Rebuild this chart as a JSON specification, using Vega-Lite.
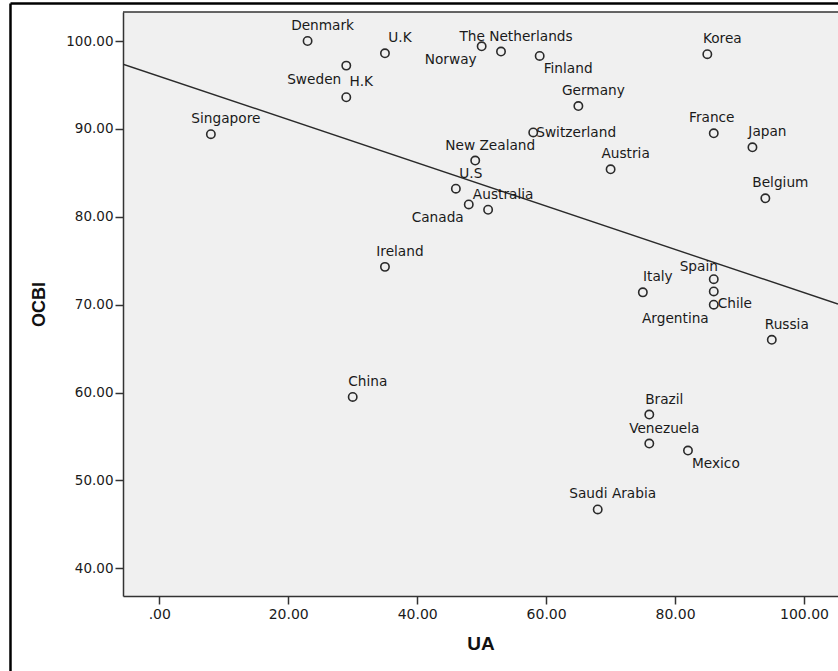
{
  "$schema": "https://vega.github.io/schema/vega-lite/v6.json",
  "width": 715,
  "height": 584,
  "autosize": {"type": "none"},
  "padding": {"left": 123, "top": 12, "right": 0, "bottom": 75},
  "background": "white",
  "config": {
    "view": {"fill": "#f0f0f0", "stroke": null},
    "axis": {
      "grid": false,
      "domainColor": "#333",
      "domainWidth": 1.5,
      "tickColor": "#333",
      "tickWidth": 1.5,
      "tickSize": 8,
      "labelColor": "#1a1a1a",
      "labelFont": "DejaVu Sans",
      "titleFont": "Liberation Sans",
      "titleFontWeight": "bold",
      "titleColor": "#111"
    }
  },
  "data": {
    "values": [
      {"country": "Denmark", "UA": 23, "OCBI": 100.0},
      {"country": "U.K", "UA": 35, "OCBI": 98.6},
      {"country": "Sweden", "UA": 29, "OCBI": 97.2},
      {"country": "H.K", "UA": 29, "OCBI": 93.6},
      {"country": "Norway", "UA": 50, "OCBI": 99.4},
      {"country": "The Netherlands", "UA": 53, "OCBI": 98.8},
      {"country": "Finland", "UA": 59, "OCBI": 98.3},
      {"country": "Germany", "UA": 65, "OCBI": 92.6},
      {"country": "Switzerland", "UA": 58, "OCBI": 89.6},
      {"country": "Korea", "UA": 85, "OCBI": 98.5},
      {"country": "France", "UA": 86, "OCBI": 89.5},
      {"country": "Japan", "UA": 92, "OCBI": 87.9},
      {"country": "Belgium", "UA": 94, "OCBI": 82.1},
      {"country": "Austria", "UA": 70, "OCBI": 85.4},
      {"country": "Singapore", "UA": 8, "OCBI": 89.4},
      {"country": "New Zealand", "UA": 49, "OCBI": 86.4},
      {"country": "U.S", "UA": 46, "OCBI": 83.2},
      {"country": "Canada", "UA": 48, "OCBI": 81.4},
      {"country": "Australia", "UA": 51, "OCBI": 80.8},
      {"country": "Ireland", "UA": 35, "OCBI": 74.3},
      {"country": "Italy", "UA": 75, "OCBI": 71.4},
      {"country": "Spain", "UA": 86, "OCBI": 72.9},
      {"country": "Chile", "UA": 86, "OCBI": 71.5},
      {"country": "Argentina", "UA": 86, "OCBI": 70.0},
      {"country": "Russia", "UA": 95, "OCBI": 66.0},
      {"country": "China", "UA": 30, "OCBI": 59.5},
      {"country": "Brazil", "UA": 76, "OCBI": 57.5},
      {"country": "Venezuela", "UA": 76, "OCBI": 54.2},
      {"country": "Mexico", "UA": 82, "OCBI": 53.4},
      {"country": "Saudi Arabia", "UA": 68, "OCBI": 46.7}
    ]
  },
  "layer": [
    {
      "data": {"values": [{"frame": "top"}]},
      "mark": {"type": "rule", "stroke": "#333", "strokeWidth": 1.5, "clip": false},
      "encoding": {
        "y": {"datum": 103.3, "type": "quantitative", "scale": {"domain": [36.85, 103.3], "nice": false, "zero": false}}
      }
    },
    {
      "data": {"values": [{"frame": "outer"}]},
      "mark": {"type": "rule", "stroke": "black", "strokeWidth": 2.5, "clip": false},
      "encoding": {
        "x": {"datum": -23.08, "type": "quantitative", "scale": {"domain": [-5.63, 105.27], "nice": false, "zero": false}},
        "x2": {"datum": 130},
        "y": {"datum": 104.27, "type": "quantitative"}
      }
    },
    {
      "data": {"values": [{"frame": "outer"}]},
      "mark": {"type": "rule", "stroke": "black", "strokeWidth": 2.5, "clip": false},
      "encoding": {
        "x": {"datum": -23.08, "type": "quantitative"},
        "y": {"datum": 104.27, "type": "quantitative"},
        "y2": {"datum": 20}
      }
    },
    {
      "encoding": {
        "x": {
          "field": "UA", "type": "quantitative",
          "scale": {"domain": [-5.63, 105.27], "nice": false, "zero": false},
          "axis": {
            "values": [0, 20, 40, 60, 80, 100],
            "labelExpr": "datum.value === 0 ? '.00' : format(datum.value, '.2f')",
            "labelFontSize": 14,
            "labelPadding": 3,
            "title": "UA",
            "titleFontSize": 19,
            "titlePadding": 13
          }
        },
        "y": {
          "field": "OCBI", "type": "quantitative",
          "scale": {"domain": [36.85, 103.3], "nice": false, "zero": false},
          "axis": {
            "values": [40, 50, 60, 70, 80, 90, 100],
            "format": ".2f",
            "labelFontSize": 13.5,
            "labelPadding": 2,
            "title": "OCBI",
            "titleFontSize": 18,
            "titlePadding": 17
          }
        }
      },
      "layer": [
        {
          "transform": [{"regression": "OCBI", "on": "UA", "extent": [-5.63, 105.27]}],
          "mark": {"type": "line", "color": "#2a2a2a", "strokeWidth": 1.4, "clip": true}
        },
        {
          "mark": {"type": "point", "shape": "circle", "filled": false, "stroke": "#2a2a2a", "strokeWidth": 1.6, "size": 70, "opacity": 1}
        },
        {
          "transform": [{"filter": {"field": "country", "oneOf": ["Denmark", "U.K", "H.K", "The Netherlands", "Germany", "Korea", "Japan", "Belgium", "Austria", "Singapore", "New Zealand", "U.S", "Australia", "Ireland", "Italy", "Russia", "China", "Brazil", "Venezuela", "Saudi Arabia"]}}],
          "mark": {"type": "text", "font": "DejaVu Sans", "fontSize": 13.7, "color": "#1a1a1a", "align": "center", "baseline": "middle", "dx": 15, "dy": -15},
          "encoding": {"text": {"field": "country"}}
        },
        {
          "transform": [{"filter": {"field": "country", "oneOf": ["Sweden", "Norway", "Canada", "Argentina"]}}],
          "mark": {"type": "text", "font": "DejaVu Sans", "fontSize": 13.7, "color": "#1a1a1a", "align": "right", "baseline": "middle", "dx": -5, "dy": 14},
          "encoding": {"text": {"field": "country"}}
        },
        {
          "transform": [{"filter": {"field": "country", "oneOf": ["Finland", "Chile", "Mexico"]}}],
          "mark": {"type": "text", "font": "DejaVu Sans", "fontSize": 13.7, "color": "#1a1a1a", "align": "left", "baseline": "middle", "dx": 4, "dy": 13},
          "encoding": {"text": {"field": "country"}}
        },
        {
          "transform": [{"filter": {"field": "country", "equal": "Switzerland"}}],
          "mark": {"type": "text", "font": "DejaVu Sans", "fontSize": 13.7, "color": "#1a1a1a", "align": "left", "baseline": "middle", "dx": 3, "dy": 1},
          "encoding": {"text": {"field": "country"}}
        },
        {
          "transform": [{"filter": {"field": "country", "equal": "France"}}],
          "mark": {"type": "text", "font": "DejaVu Sans", "fontSize": 13.7, "color": "#1a1a1a", "align": "center", "baseline": "middle", "dx": -2, "dy": -15},
          "encoding": {"text": {"field": "country"}}
        },
        {
          "transform": [{"filter": {"field": "country", "equal": "Spain"}}],
          "mark": {"type": "text", "font": "DejaVu Sans", "fontSize": 13.7, "color": "#1a1a1a", "align": "center", "baseline": "middle", "dx": -15, "dy": -12},
          "encoding": {"text": {"field": "country"}}
        }
      ]
    }
  ]
}
